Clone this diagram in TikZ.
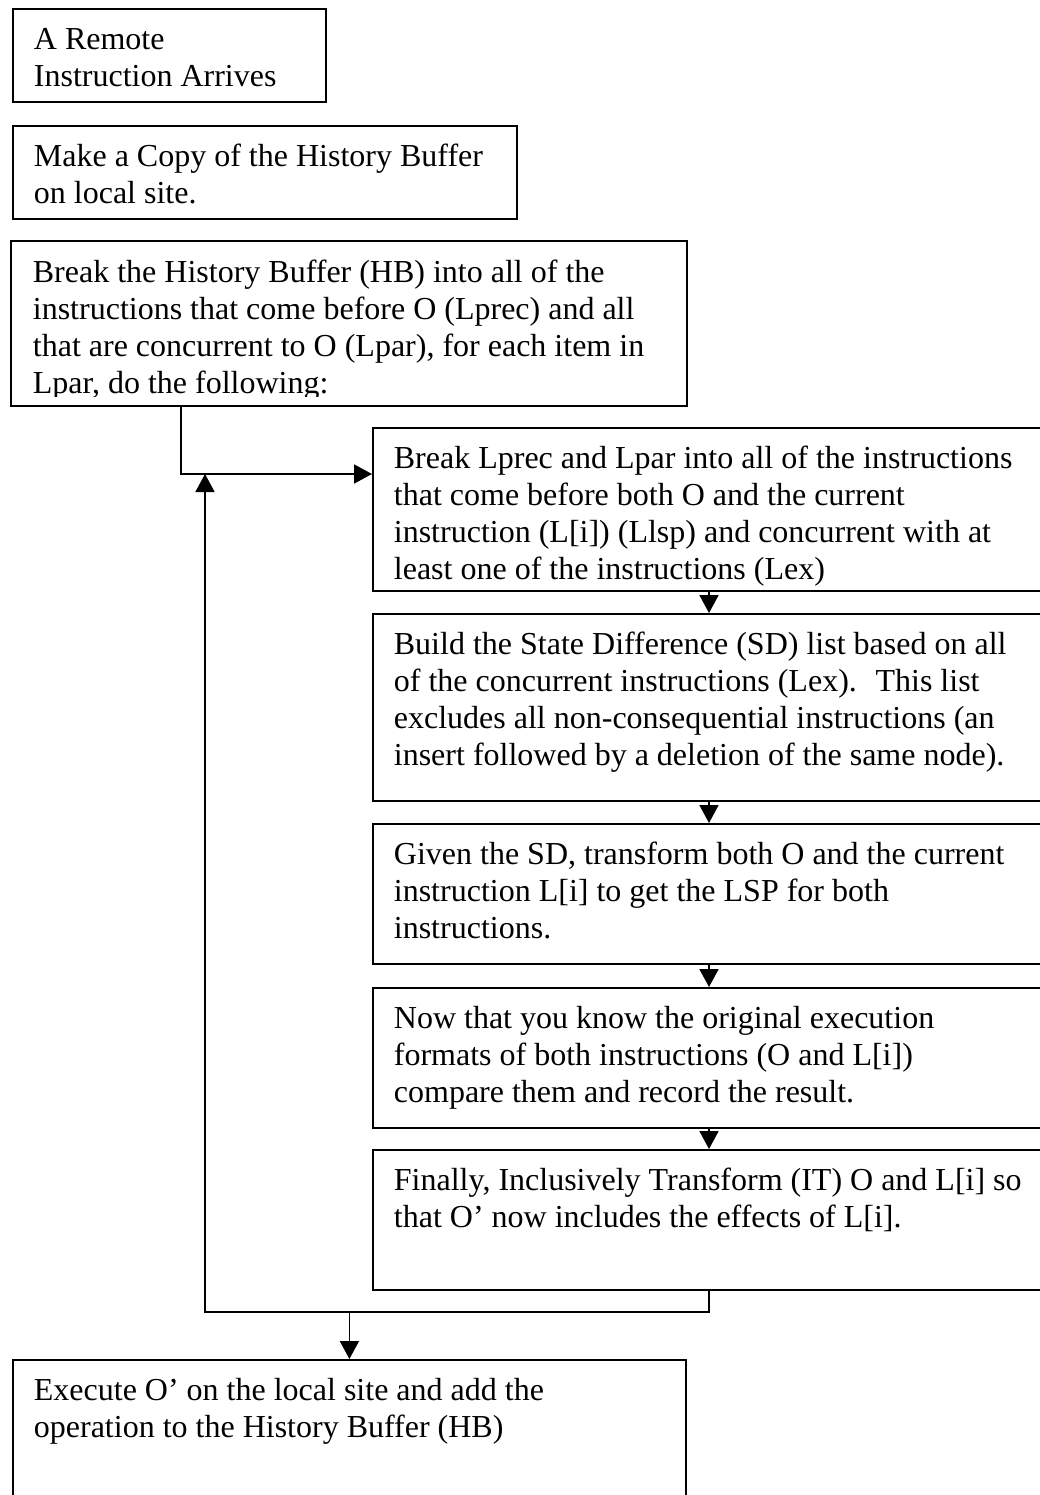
\documentclass[tikz,border=0pt]{standalone}
\usepackage{fontspec}
\setmainfont{Liberation Serif}
\usetikzlibrary{arrows.meta}
\newcommand{\boxtext}[3]{\parbox[t][#2][t]{#1}{\rule{0pt}{30pt}#3}}

\begin{document}
\begin{tikzpicture}[x=1pt, y=-1pt, line width=1.8pt, >={Triangle[length=18pt,width=19pt]},
    proc/.style = {draw, anchor=north west, inner xsep=21pt, inner ysep=11pt},
    font=\fontsize{32}{37}\selectfont]
                  \path[use as bounding box, fill=white] (0,0) rectangle (1040,1495);
                  \clip (0,0) rectangle (1040,1495);
                  \node[proc] (arrive) at (12,8) {\boxtext{271pt}{71pt}{A Remote\\Instruction Arrives}};
                  \node[proc] (copy) at (12,125) {\boxtext{462pt}{71pt}{Make a Copy of the History Buffer\\on local site.}};
                  \begin{scope}
                    \clip (0,241) rectangle (1040,396);
                    \node[proc, draw=none] (split) at (11,241) {\boxtext{632pt}{141pt}{Break the History Buffer (HB) into all of the\\instructions that come before O (Lprec) and all\\that are concurrent to O (Lpar), for each item in\\Lpar, do the following:}};
                  \end{scope}
                  \draw (split.north west) rectangle (split.south east);
                  \node[proc] (lists) at (372,427) {\boxtext{648pt}{141pt}{Break Lprec and Lpar into all of the instructions\\that come before both O and the current\\instruction (L[i]) (Llsp) and concurrent with at\\least one of the instructions (Lex)}};
                  \node[proc] (sd) at (372,613) {\boxtext{648pt}{165pt}{Build the State Difference (SD) list based on all\\of the concurrent instructions (Lex).~ This list\\excludes all non-consequential instructions (an\\insert followed by a deletion of the same node).}};
                  \node[proc] (lsp) at (372,823) {\boxtext{648pt}{118pt}{Given the SD, transform both O and the current\\instruction L[i] to get the LSP for both\\instructions.}};
                  \node[proc] (cmp) at (372,987) {\boxtext{648pt}{118pt}{Now that you know the original execution\\formats of both instructions (O and L[i])\\compare them and record the result.}};
                  \node[proc] (it) at (372,1149) {\boxtext{648pt}{118pt}{Finally, Inclusively Transform (IT) O and L[i] so\\that O’ now includes the effects of L[i].}};
                  \node[proc] (exec) at (12,1359) {\boxtext{631pt}{148pt}{Execute O’ on the local site and add the\\operation to the History Buffer (HB)}};
                  \coordinate (fork) at (181,474);
                  \coordinate (back) at (205,1312);
                  \coordinate (col) at (709,0);
                  \draw[->] (split.south -| fork) |- (fork -| lists.west);
                  \foreach \a/\b in {lists/sd, sd/lsp, lsp/cmp, cmp/it}
                    \draw[->] (\a.south -| col) -- (\b.north -| col);
                  \draw[->] (it.south -| col) |- (back) -- (back |- fork);
                  \draw[->] (exec.north |- back) -- (exec.north);
              \end{tikzpicture}
\end{document}
